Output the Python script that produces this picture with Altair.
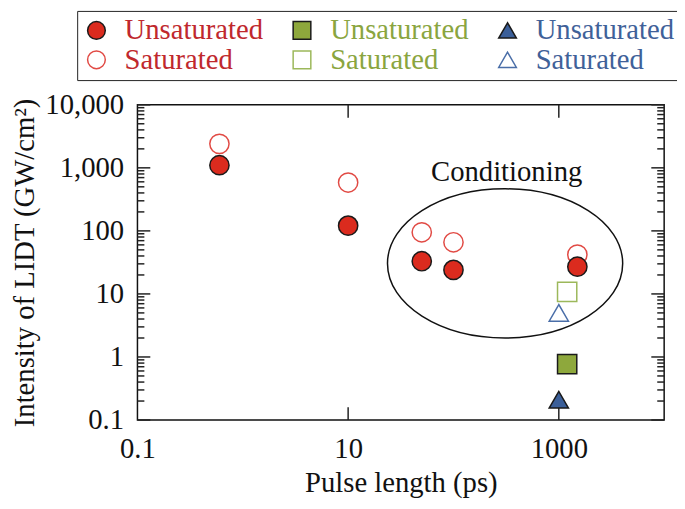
import altair as alt
import pandas as pd

# ---- data ----
red_x = [0.6, 10, 50, 100, 1500]
red_unsat = [1100, 121, 33, 24, 27]
red_sat = [2400, 585, 95, 66, 42]
green_x = [1200]
green_unsat = [0.77]
green_sat = [10.8]
blue_x = [1000]
blue_unsat = [0.21]
blue_sat = [5.0]

series_keys = ["red|Unsaturated", "red|Saturated", "green|Unsaturated",
               "green|Saturated", "blue|Unsaturated", "blue|Saturated"]
series_shapes = ["circle", "circle", "square", "square", "triangle-up", "triangle-up"]
series_fills = ["#db2b1e", "transparent", "#8ea83c", "transparent", "#3b5f99", "transparent"]
series_strokes = ["#1a1a1a", "#e14a44", "#1a1a1a", "#9cb85a", "#1a1a1a", "#4a6ea8"]

y_major = [0.1, 1, 10, 100, 1000, 10000]
y_minor = [m * d for d in [0.1, 1, 10, 100, 1000] for m in range(2, 10)]
x_major = [10, 1000]
x_labels = [0.1, 10, 1000]

ellipse_center = {"x": 309, "y": 30.5}
note_text = {"x": 320, "y": 620, "label": "Conditioning"}

FONT = "Times New Roman, Liberation Serif, DejaVu Serif, serif"
FS = 29
W, H = 533, 319

rows = []
for key, xs, ys in [("red|Saturated", red_x, red_sat),
                    ("green|Saturated", green_x, green_sat),
                    ("blue|Saturated", blue_x, blue_sat),
                    ("red|Unsaturated", red_x, red_unsat),
                    ("green|Unsaturated", green_x, green_unsat),
                    ("blue|Unsaturated", blue_x, blue_unsat)]:
    for xv, yv in zip(xs, ys):
        rows.append({"x": xv, "y": yv, "key": key})
df = pd.DataFrame(rows)

x_scale = alt.Scale(type="log", domain=[0.1, 10000], nice=False)
y_scale = alt.Scale(type="log", domain=[0.1, 10000], nice=False)
x_axis = alt.Axis(values=x_labels, format="~g", ticks=False, domain=False, grid=False,
                  labelFont=FONT, labelFontSize=FS, labelColor="#111", labelPadding=15,
                  labelFlush=False, title="Pulse length (ps)", titleFont=FONT,
                  titleFontSize=FS, titleFontWeight="normal", titleColor="#111",
                  titlePadding=5)
y_axis = alt.Axis(values=y_major, format=",", ticks=False, domain=False, grid=False,
                  labelFont=FONT, labelFontSize=FS, labelColor="#111", labelPadding=14,
                  labelFlush=False, title="Intensity of LIDT (GW/cm²)", titleFont=FONT,
                  titleFontSize=FS, titleFontWeight="normal", titleColor="#111",
                  titlePadding=5)

def X(field):
    return alt.X(field, type="quantitative", scale=x_scale, axis=x_axis, title="Pulse length (ps)")

def Y(field):
    return alt.Y(field, type="quantitative", scale=y_scale, axis=y_axis, title="Intensity of LIDT (GW/cm²)")

legend = alt.Legend(
    title=None, orient="none", legendX=-61, legendY=-95, columns=3,
    labelExpr="split(datum.label, '|')[1]",
    labelColor={"expr": "indexof(datum.value, 'red') >= 0 ? '#c0282d' : (indexof(datum.value, 'green') >= 0 ? '#8aa53f' : '#3f6199')"},
    labelFont=FONT, labelFontSize=FS, labelOffset=14, labelLimit=400,
    columnPadding=24, rowPadding=0, symbolSize=320, symbolStrokeWidth=1.5,
    symbolOpacity=1, strokeColor="#222", padding=5, fillColor="white",
)

points = alt.Chart(df).mark_point(size=380, strokeWidth=1.5, opacity=1).encode(
    x=X("x"), y=Y("y"),
    shape=alt.Shape("key:N", scale=alt.Scale(domain=series_keys, range=series_shapes), legend=legend),
    fill=alt.Fill("key:N", scale=alt.Scale(domain=series_keys, range=series_fills), legend=legend),
    stroke=alt.Stroke("key:N", scale=alt.Scale(domain=series_keys, range=series_strokes), legend=legend),
)

ell = alt.Chart(pd.DataFrame([ellipse_center])).mark_point(
    shape="M-1,0A1,0.634,0,1,1,1,0A1,0.634,0,1,1,-1,0Z",
    size=(2 * 119) ** 2, stroke="#111", strokeWidth=1.5, fill=None, filled=False, opacity=1,
).encode(x=X("x"), y=Y("y"))

note = alt.Chart(pd.DataFrame([note_text])).mark_text(
    font=FONT, fontSize=FS, align="center", baseline="alphabetic", color="#111"
).encode(x=X("x"), y=Y("y"), text="label:N")

def yticks(vals, x0, x1):
    return alt.Chart(pd.DataFrame({"v": vals})).mark_rule(color="#222", strokeWidth=1.5).encode(
        y=Y("v"), x=alt.value(x0), x2=alt.value(x1))

def xticks(vals, y0, y1):
    return alt.Chart(pd.DataFrame({"v": vals})).mark_rule(color="#222", strokeWidth=1.5).encode(
        x=X("v"), y=alt.value(y0), y2=alt.value(y1))

chart = alt.layer(
    yticks(y_major, 0, 13), yticks(y_minor, 0, 7),
    yticks(y_major, W, W - 13), yticks(y_minor, W, W - 7),
    xticks(x_major, H, H - 13), xticks(x_major, 0, 13),
    ell, note, points,
).properties(
    width=W, height=H,
    autosize=alt.AutoSizeParams(type="none"),
    padding={"left": 131, "top": 95, "right": 13, "bottom": 79},
).configure_view(stroke="#111", strokeWidth=1.5)

chart.save("out.html", embed_options={"renderer": "svg", "actions": False})
